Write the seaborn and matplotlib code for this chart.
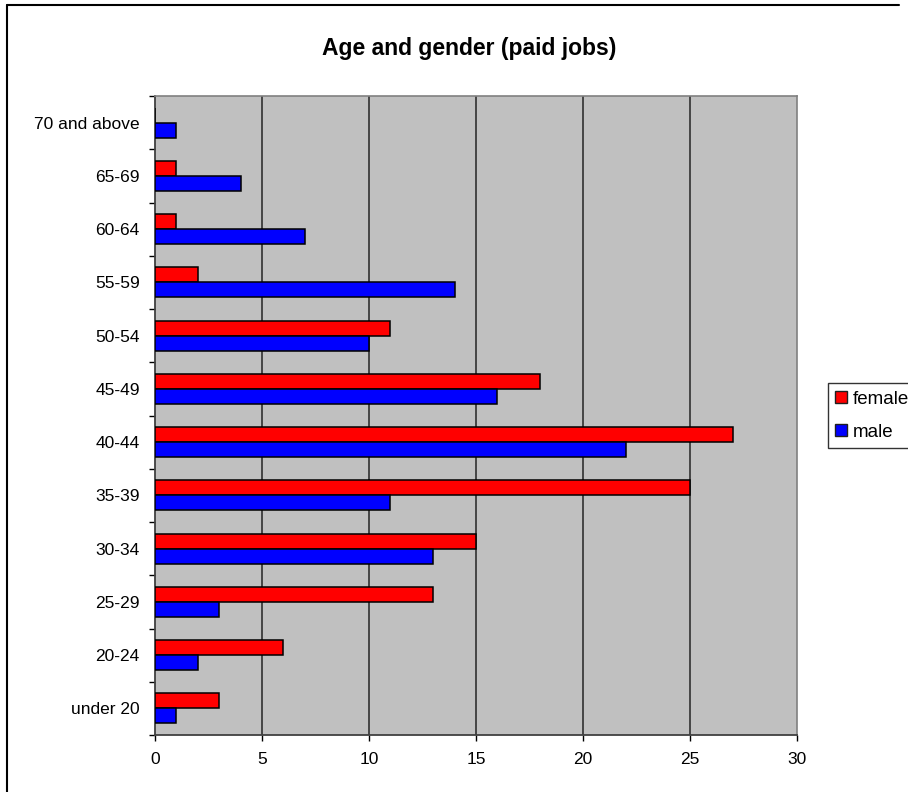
import matplotlib
matplotlib.use("Agg")
import matplotlib.pyplot as plt
from matplotlib.lines import Line2D
import seaborn as sns
import pandas as pd

# Age groups, listed top to bottom as they appear on the chart
age_groups = ["70 and above", "65-69", "60-64", "55-59", "50-54", "45-49",
              "40-44", "35-39", "30-34", "25-29", "20-24", "under 20"]
female = [0, 1, 1, 2, 11, 18, 27, 25, 15, 13, 6, 3]
male = [1, 4, 7, 14, 10, 16, 22, 11, 13, 3, 2, 1]
genders = ["female", "male"]
x_ticks = [0, 5, 10, 15, 20, 25, 30]

df = pd.DataFrame({
    "age": age_groups * 2,
    "count": female + male,
    "gender": ["female"] * len(age_groups) + ["male"] * len(age_groups),
})

sns.set_style("white")
plt.rcParams["font.family"] = ["Liberation Sans", "DejaVu Sans"]
plt.rcParams["text.color"] = "black"
plt.rcParams["xtick.color"] = "black"
plt.rcParams["ytick.color"] = "black"
plt.rcParams["xtick.labelcolor"] = "black"
plt.rcParams["ytick.labelcolor"] = "black"

W, H = 908, 792
fig = plt.figure(figsize=(W / 100, H / 100), dpi=100)
fig.patch.set_facecolor("white")

# outer chart frame (open at the bottom and right)
fig.add_artist(Line2D([7 / W, 7 / W], [0, 1 - 5 / H], transform=fig.transFigure,
                      color="black", lw=1.5))
fig.add_artist(Line2D([7 / W, 899 / W], [1 - 5 / H, 1 - 5 / H], transform=fig.transFigure,
                      color="black", lw=1.5))

left, right, top, bottom = 155, 797, 96, 735
ax = fig.add_axes([left / W, 1 - bottom / H, (right - left) / W, (bottom - top) / H])
ax.set_facecolor("#C0C0C0")

palette = {"female": "#FF0000", "male": "#0000FF"}
sns.barplot(data=df, y="age", x="count", hue="gender", order=age_groups,
            hue_order=genders, palette=palette, orient="h", width=0.565,
            edgecolor="black", linewidth=1.1, saturation=1, ax=ax,
            legend=False, zorder=3)

ax.set_xlim(0, 30)
ax.set_ylim(len(age_groups) - 0.5, -0.5)
ax.set_xticks(x_ticks)
ax.set_xticklabels([str(t) for t in x_ticks], fontsize=12.5)
ax.set_xlabel("")
ax.set_ylabel("")

# category labels centred, tick marks on category boundaries
ax.set_yticks(range(len(age_groups)))
ax.set_yticklabels(age_groups, fontsize=12.5)
ax.set_yticks([i - 0.5 for i in range(len(age_groups) + 1)], minor=True)
ax.tick_params(axis="y", which="major", left=True, length=0, pad=11)
ax.tick_params(axis="y", which="minor", left=True, length=4.5, width=1, color="black")
ax.tick_params(axis="x", which="major", bottom=True, length=4.5, width=1, color="black",
               pad=8, direction="out")

# vertical gridlines
for v in x_ticks[1:-1]:
    ax.axvline(v, color="#303030", lw=1.2, zorder=1)

for side in ["top", "right"]:
    ax.spines[side].set_visible(True)
    ax.spines[side].set_color("#808080")
    ax.spines[side].set_linewidth(1.2)
for side in ["left", "bottom"]:
    ax.spines[side].set_visible(True)
    ax.spines[side].set_color("#404040")
    ax.spines[side].set_linewidth(1.3)

fig.text(469 / W, 1 - 48 / H, "Age and gender (paid jobs)", ha="center", va="center",
         fontsize=16.5, fontweight="bold", color="black")

handles = [Line2D([0], [0], marker="s", linestyle="none", markersize=8,
                  markerfacecolor=palette[g], markeredgecolor="#202020", markeredgewidth=1)
           for g in genders]
leg = fig.legend(handles, genders, loc="upper left",
                 bbox_to_anchor=(828 / W, 1 - 383 / H), fontsize=13.5,
                 frameon=True, fancybox=False, handlelength=0.6, handletextpad=0.3,
                 borderpad=0.4, labelspacing=0.85, borderaxespad=0)
leg.get_frame().set_edgecolor("black")
leg.get_frame().set_linewidth(1)

fig.savefig("out.png", dpi=100)
